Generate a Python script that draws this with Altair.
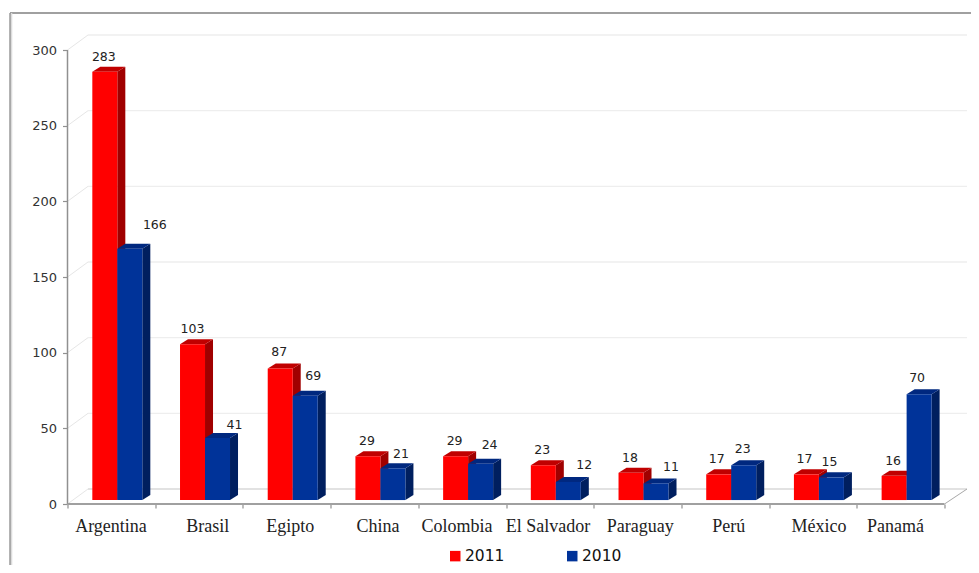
import altair as alt
import pandas as pd

categories = ["Argentina", "Brasil", "Egipto", "China", "Colombia", "El Salvador", "Paraguay", "Perú", "México", "Panamá"]
values_2011 = [283, 103, 87, 29, 29, 23, 18, 17, 17, 16]
values_2010 = [166, 41, 69, 21, 24, 12, 11, 23, 15, 70]
y_ticks = [0, 50, 100, 150, 200, 250, 300]

# label placement, in pixels relative to the bar
dx_2011 = [-1, 0, -1, -1, -1, -1, -1, -2, -2, -1]
dy_2011 = [15, 15, 16, 15, 15, 15, 15, 15, 15, 15]
dx_2010 = [25, 17, 8, 8, 9, 16, 15, -1, -2, -2]
dy_2010 = [24, 13, 20, 14, 19, 17, 16, 16, 15, 16]
cat_label_x = [0.496, 1.6, 2.54, 3.54, 4.44, 5.48, 6.53, 7.54, 8.57, 9.44]

# geometry of the pseudo 3D box (pixels)
W, H = 899.5, 468.0
PX_X = 87.7
PX_Y = 454 / 300
XMAX = W / PX_X
YMAX = H / PX_Y
BAR_L = 0.283
BAR_W = 25 / PX_X
DX = 8 / PX_X
DY = 5 / PX_Y
BASE = 2.6
WALL_X = 20.5 / PX_X
WALL_Y = 15 / PX_Y

x_s = alt.Scale(domain=[0, XMAX], nice=False, zero=False)
y_s = alt.Scale(domain=[0, YMAX], nice=False, zero=False)

fronts, sides, tops, labels = [], [], [], []
for s, vals, off, dxs, dys in (("2011", values_2011, 0, dx_2011, dy_2011), ("2010", values_2010, 1, dx_2010, dy_2010)):
    for i, v in enumerate(vals):
        L = i + BAR_L + off * BAR_W
        R = L + BAR_W
        T = v + BASE
        k = f"{s}-{i}"
        fronts.append(dict(s=s, x=L, x2=R, y=BASE, y2=T))
        sides += [dict(s=s, k=k, x=R, y=BASE, y2=T), dict(s=s, k=k, x=R + DX, y=BASE + DY, y2=T + DY)]
        tops += [dict(s=s, k=k, x=L, y=T, y2=T), dict(s=s, k=k, x=L + DX, y=T, y2=T + DY),
                 dict(s=s, k=k, x=R, y=T, y2=T + DY), dict(s=s, k=k, x=R + DX, y=T + DY, y2=T + DY)]
        labels.append(dict(s=s, t=str(v), x=(L + R) / 2 + dxs[i] / PX_X, y=T + dys[i] / PX_Y))
fronts, sides, tops, labels = map(pd.DataFrame, (fronts, sides, tops, labels))

Xp = alt.X("x:Q", scale=x_s, title=None,
           axis=alt.Axis(values=list(range(11)), labels=False, domain=False, grid=False, ticks=True,
                         tickColor="#909090", tickSize=4, tickWidth=1.2))
Yp = alt.Y("y:Q", scale=y_s, title=None,
           axis=alt.Axis(values=y_ticks, domain=False, grid=False, tickColor="#909090", tickSize=5, tickWidth=1.2,
                         labelFont="DejaVu Sans", labelFontSize=13, labelColor="#333333", labelPadding=6))

# wall grid, wall diagonals, floor
grid = pd.DataFrame([dict(x=WALL_X, x2=XMAX, y=t + WALL_Y) for t in y_ticks if t > 0])
grid0 = pd.DataFrame([dict(x=WALL_X, x2=XMAX, y=WALL_Y)])
grid_l = alt.Chart(grid).mark_rule(strokeWidth=1.3, color="#eeeeee").encode(x=Xp, x2="x2:Q", y=Yp)
grid0_l = alt.Chart(grid0).mark_rule(strokeWidth=1.3, color="#d8d8d8").encode(x=Xp, x2="x2:Q", y=Yp)
diag_rows = []
for t in y_ticks:
    diag_rows += [dict(k=t, x=0, y=t), dict(k=t, x=WALL_X, y=t + WALL_Y)]
diag_l = alt.Chart(pd.DataFrame(diag_rows)).mark_line(color="#e6e6e6", strokeWidth=1).encode(x=Xp, y=Yp, detail="k:N")
floor_diag = pd.DataFrame([dict(x=10, y=0), dict(x=XMAX, y=WALL_Y)])
floor_l = alt.Chart(floor_diag).mark_line(color="#a8a8a8", strokeWidth=1).encode(x=Xp, y=Yp)
y_axis = alt.Chart(pd.DataFrame([dict(x=0, y=0, y2=300)])).mark_rule(color="#909090", strokeWidth=1.5).encode(x=Xp, y=Yp, y2="y2:Q")
x_axis = alt.Chart(pd.DataFrame([dict(x=0, x2=10, y=0)])).mark_rule(color="#a0a0a0", strokeWidth=2).encode(x=Xp, x2="x2:Q", y=Yp)

# outer frame
one = pd.DataFrame([{"a": 0}])
frame_top = alt.Chart(one).mark_rule(color="#808080", strokeWidth=1.3).encode(
    x=alt.value(-57.5), x2=alt.value(904), y=alt.value(-23))
frame_left_s = alt.Chart(one).mark_rule(color="#dcdcdc", strokeWidth=2).encode(
    x=alt.value(-56.2), y=alt.value(-23), y2=alt.value(529))
frame_left = alt.Chart(one).mark_rule(color="#808080", strokeWidth=1.2).encode(
    x=alt.value(-57.5), y=alt.value(-23), y2=alt.value(529))

layers = [frame_top, frame_left_s, frame_left, grid_l, grid0_l, diag_l, floor_l, y_axis, x_axis]
faces = {"2011": ("#A00000", "#C00000"), "2010": ("#001F5F", "#00287F")}
color = alt.Color("s:N", scale=alt.Scale(domain=["2011", "2010"], range=["#FF0000", "#003399"]),
                  legend=alt.Legend(title=None, orient="none", legendX=380, legendY=512, direction="horizontal",
                                    symbolType="square", symbolSize=110, symbolStrokeWidth=0,
                                    labelFont="DejaVu Sans", labelFontSize=15.5, labelColor="#111111",
                                    columnPadding=60, labelOffset=2))
for s in ("2011", "2010"):
    side_c, top_c = faces[s]
    layers.append(alt.Chart(sides[sides.s == s]).mark_area(color=side_c, interpolate="linear").encode(x=Xp, y=Yp, y2="y2:Q", detail="k:N"))
    layers.append(alt.Chart(tops[tops.s == s]).mark_area(color=top_c, interpolate="linear").encode(x=Xp, y=Yp, y2="y2:Q", detail="k:N"))
    layers.append(alt.Chart(fronts[fronts.s == s]).mark_rect().encode(x=Xp, x2="x2:Q", y=Yp, y2="y2:Q", color=color))

label_l = alt.Chart(labels).mark_text(font="DejaVu Sans", fontSize=12.5, color="#222222", baseline="middle").encode(x=Xp, y=Yp, text="t:N")
cat_df = pd.DataFrame(dict(x=cat_label_x, t=categories))
cat_l = alt.Chart(cat_df).mark_text(font="Liberation Serif", fontSize=18, color="#222222", baseline="middle").encode(
    x=Xp, y=alt.value(H + 23), text="t:N")
layers += [label_l, cat_l]

chart = alt.layer(*layers).properties(
    width=W, height=H, padding={"left": 59.5, "top": 28, "right": 4, "bottom": 61},
    autosize=alt.AutoSizeParams(type="none"), background="white"
).configure_view(stroke=None)

chart.save("out.html", embed_options={"renderer": "svg", "actions": False})
